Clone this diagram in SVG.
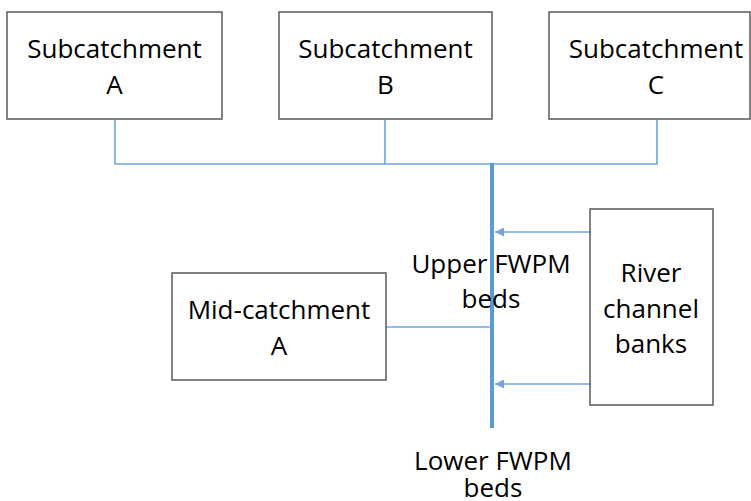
<svg xmlns="http://www.w3.org/2000/svg" width="751" height="501" viewBox="0 0 751 501">
<style>
.box{fill:#fff;stroke:#595959;stroke-width:1.5}
.lbl{font-family:"Open Sans","Liberation Sans",sans-serif;font-size:26px;fill:#000;text-anchor:middle}
.ln{fill:none;stroke:#6fa6dc;stroke-width:1.6}
.trunk{fill:none;stroke:#5b9bd5;stroke-width:4}
</style>
<defs>
<marker id="ah" viewBox="0 0 10 10" refX="10" refY="5" markerWidth="9" markerHeight="9" markerUnits="userSpaceOnUse" orient="auto">
<path d="M0,0 L10,5 L0,10 z" fill="#6fa6dc"/>
</marker>
</defs>
<g id="connectors">
<path class="ln" d="M115,120 V164 H657 V120"/>
<path class="ln" d="M385,120 V164"/>
<path class="ln" d="M386,327 H491"/>
<path class="trunk" d="M492,163 V428"/>
<path class="ln" d="M590,232 H495" marker-end="url(#ah)"/>
<path class="ln" d="M590,384 H495" marker-end="url(#ah)"/>
</g>
<g id="subA">
<rect class="box" x="7" y="12" width="215" height="107"/>
<text class="lbl" x="114.5" y="58">Subcatchment</text>
<text class="lbl" x="114.5" y="94">A</text>
</g>
<g id="subB">
<rect class="box" x="279" y="12" width="213" height="107"/>
<text class="lbl" x="385.5" y="58">Subcatchment</text>
<text class="lbl" x="385.5" y="94">B</text>
</g>
<g id="subC">
<rect class="box" x="549" y="12" width="201" height="107"/>
<text class="lbl" x="656" y="58">Subcatchment</text>
<text class="lbl" x="656" y="94">C</text>
</g>
<g id="midA">
<rect class="box" x="172" y="273" width="214" height="107"/>
<text class="lbl" x="279" y="319">Mid-catchment</text>
<text class="lbl" x="279" y="355">A</text>
</g>
<g id="river">
<rect class="box" x="590" y="209" width="123" height="196"/>
<text class="lbl" x="651" y="282">River</text>
<text class="lbl" x="651" y="318">channel</text>
<text class="lbl" x="651" y="353">banks</text>
</g>
<g id="upper">
<text class="lbl" x="491" y="273">Upper FWPM</text>
<text class="lbl" x="491" y="308">beds</text>
</g>
<g id="lower">
<text class="lbl" x="493" y="470">Lower FWPM</text>
<text class="lbl" x="493" y="497">beds</text>
</g>
</svg>
